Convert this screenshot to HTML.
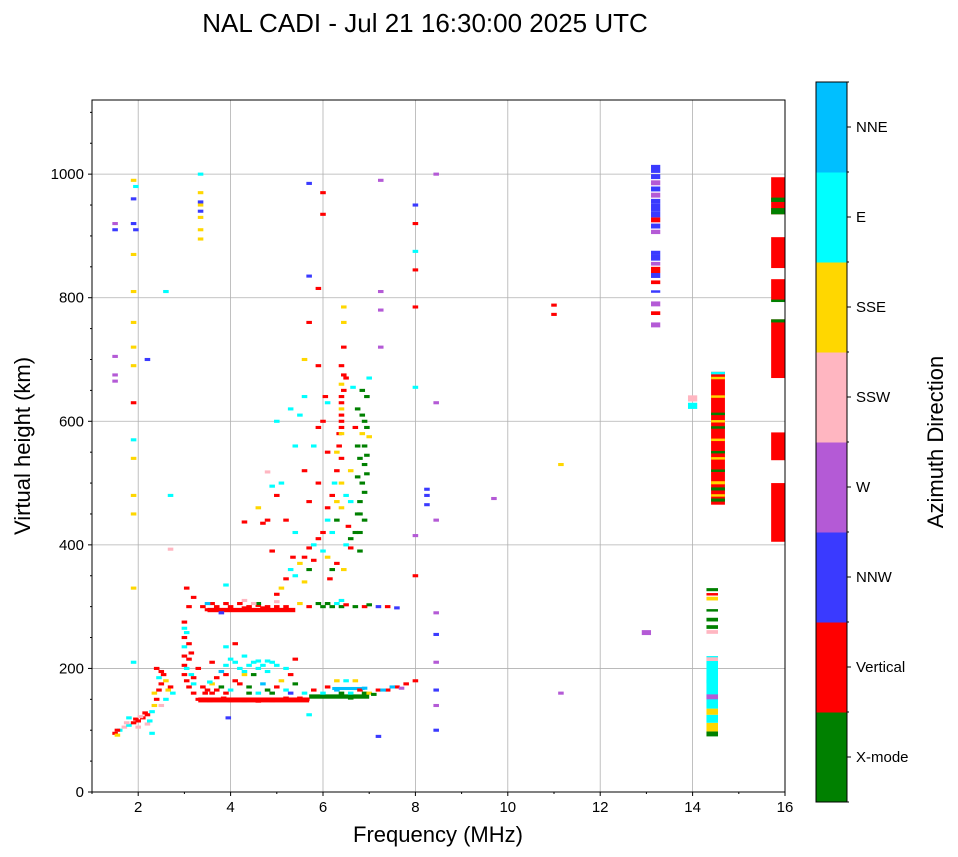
<!DOCTYPE html>
<html><head><meta charset="utf-8"><style>
body{margin:0;background:#fff;}
svg{display:block;font-family:"Liberation Sans","DejaVu Sans",sans-serif;}
</style></head><body>
<svg id="chart" width="958" height="857" viewBox="0 0 958 857" xmlns="http://www.w3.org/2000/svg">
<text x="425" y="32" font-size="26" text-anchor="middle">NAL CADI - Jul 21 16:30:00 2025 UTC</text>
<g id="grid"></g>
<g id="marks"></g>
<rect x="92" y="100" width="693" height="692" fill="none" stroke="#000" stroke-width="1"/>
<g id="axes"></g>
<text x="438" y="842" font-size="22" text-anchor="middle">Frequency (MHz)</text>
<text x="0" y="0" font-size="22" text-anchor="middle" transform="translate(30,446) rotate(-90)">Virtual height (km)</text>
<g id="cbar"></g>
<text x="0" y="0" font-size="22" text-anchor="middle" transform="translate(943,442) rotate(-90)">Azimuth Direction</text>
</svg>
<script>
const dirNames=["X-mode","Vertical","NNW","W","SSW","SSE","E","NNE"];
const dirColors=["#008000","#ff0000","#3a3aff","#b45ad6","#ffb6c1","#ffd700","#00ffff","#00bfff"];
const xTicks=[2,4,6,8,10,12,14,16];
const yTicks=[0,200,400,600,800,1000];
// echoes: [frequency MHz, virtual height km, direction index]
const echoes=[
[1.5,95,1],[1.55,92,5],[1.6,100,6],[1.7,105,4],[1.8,108,6],[1.9,112,1],[2.0,115,1],[2.1,120,1],[2.2,125,1],[2.3,130,6],[2.35,140,5],[2.4,150,1],[2.45,165,1],[2.5,175,1],[2.5,195,1],[2.6,180,5],[2.7,170,1],[2.75,160,6],[2.3,95,6],[2.0,105,4],[1.8,120,6],[2.2,110,4],[2.4,200,1],[2.6,150,6],[1.55,100,1],[1.75,112,4],[1.95,118,1],[2.05,122,4],[2.15,128,1],[2.25,115,6],[2.35,160,5],[2.45,185,6],[2.55,190,1],[2.65,165,5],[2.5,140,4],
[3.0,190,1],[3.0,205,1],[3.0,220,1],[3.0,235,6],[3.0,250,1],[3.0,265,6],[3.05,180,1],[3.05,200,6],[3.1,170,1],[3.1,240,1],[3.15,190,6],[3.1,215,1],[3.2,175,6],[3.2,160,1],[3.3,150,1],[3.3,200,1],[3.05,330,1],[3.1,300,1],[3.2,315,1],[3.0,275,1],[3.05,258,6],[3.15,225,1],[3.2,185,1],
[3.4,150,1],[3.55,148,1],[3.7,150,1],[3.85,152,1],[4.0,148,1],[4.15,150,1],[4.3,148,1],[4.45,150,1],[4.6,147,1],[4.75,150,1],[4.9,148,1],[5.05,150,1],[5.2,152,1],[5.35,150,1],[5.5,152,1],[5.65,150,1],
[3.5,165,1],[3.6,175,5],[3.8,170,0],[4.0,165,6],[4.2,175,1],[4.4,170,0],[4.6,160,6],[4.8,165,0],[5.0,170,1],[5.2,165,6],[5.4,175,0],[5.6,160,6],[5.8,155,0],[6.0,160,6],[6.2,155,0],[6.3,155,0],[6.4,160,0],[6.5,155,0],[6.6,160,6],[6.7,155,0],[6.8,165,1],[6.9,160,0],[7.0,160,5],[7.2,165,1],[7.4,165,1],[7.6,170,1],[7.8,175,1],[8.0,180,1],[5.8,165,1],[6.1,170,1],[6.3,180,5],[6.5,180,6],[6.7,180,5],[3.7,185,1],[3.9,190,1],[4.1,180,1],[4.3,190,5],[5.1,180,5],[6.1,155,0],[6.6,152,0],[7.1,158,0],[7.3,165,7],[7.5,170,7],[7.7,168,3],[6.9,168,7],[6.3,165,7],[4.4,160,0],[4.9,160,0],[5.3,160,2],[3.6,160,1],[4.7,175,7],[3.4,170,1],[3.45,160,1],[3.7,165,1],[3.9,160,1],[3.55,178,6],
[3.9,205,6],[4.0,215,6],[4.2,200,6],[4.3,220,6],[4.5,210,6],[4.6,200,6],[4.7,205,6],[4.8,195,6],[4.9,210,6],[5.0,205,6],[5.2,200,6],[3.6,210,1],[4.1,240,1],[3.9,235,6],[5.4,215,1],[5.3,190,1],[4.5,190,0],[4.4,205,6],[4.8,212,6],[4.1,210,6],[4.6,212,6],[4.3,195,6],[3.8,195,7],
[3.4,300,1],[3.5,295,1],[3.6,305,1],[3.7,300,1],[3.8,295,1],[3.9,305,1],[4.0,300,1],[4.1,295,1],[4.2,305,1],[4.3,298,1],[4.4,300,1],[4.5,295,1],[4.6,302,1],[4.7,298,1],[4.8,300,1],[4.9,295,1],[5.0,300,1],[5.1,295,1],[5.2,300,1],[5.3,295,1],[3.9,335,6],[4.3,310,4],[4.6,305,0],[5.5,305,5],[5.7,300,1],[5.9,305,0],[6.0,300,0],[6.1,305,0],[6.2,300,0],[6.3,305,6],[6.4,300,0],[6.5,303,1],[6.7,300,0],[6.9,300,1],[7.0,303,0],[7.2,300,2],[7.4,300,1],[7.6,298,2],[6.4,310,6],[3.5,305,7],[4.5,305,4],[5.0,308,4],[3.8,290,2],
[5.0,320,1],[5.1,330,5],[5.2,345,1],[5.3,360,6],[5.35,380,1],[5.4,350,6],[5.5,370,5],[5.6,380,1],[5.7,395,1],[5.8,400,6],[5.9,410,1],[5.6,340,5],[5.7,360,0],[5.8,375,1],[6.0,420,1],[6.1,440,6],[6.1,460,1],[6.2,480,1],[6.25,500,6],[6.3,520,1],[6.3,550,5],[6.35,580,1],[6.4,600,1],[6.4,620,5],[6.45,650,1],[6.5,670,1],[6.4,690,1],[6.45,720,1],[6.45,760,5],[6.45,785,5],[6.2,420,6],[6.3,440,0],[6.4,460,5],[6.5,480,6],[6.55,430,1],[6.6,410,0],[6.6,395,1],[6.7,420,0],[6.75,450,0],[6.8,470,0],[6.85,500,0],[6.9,530,0],[6.9,560,0],[6.9,600,0],[6.95,640,0],[7.0,670,6],[6.75,560,0],[6.75,620,0],[6.65,655,6],[6.7,590,1],[6.85,580,5],[7.0,575,5],[6.1,380,5],[6.2,360,0],[6.3,370,1],[6.5,400,6],[5.9,500,1],[5.8,560,6],[5.9,590,1],[6.0,600,1],[6.05,640,1],[5.7,470,1],[5.6,520,1],[5.5,610,6],[5.6,640,6],[5.4,560,6],[5.9,690,1],[6.1,630,6],[5.0,480,1],[4.3,437,1],[4.7,435,1],[5.2,440,1],[4.9,390,1],[4.8,440,1],[4.6,460,5],[5.4,420,6],[5.1,500,6],[6.1,550,1],[5.0,600,6],[5.3,620,6],[5.6,700,5],[6.4,640,1],[6.4,660,5],[6.8,540,0],[6.3,470,5],[6.4,500,5],[6.4,540,1],[6.4,580,5],[6.4,610,1],[6.8,390,0],[6.8,420,0],[6.8,450,0],[6.75,510,0],[6.85,610,0],[6.85,650,0],[6.6,470,6],[6.6,520,5],[6.45,360,5],[6.15,345,1],[6.0,390,6],[6.9,440,0],[6.9,485,0],[6.95,515,0],[6.95,545,0],[6.95,590,0],[6.4,630,1],[6.45,675,1],[6.35,560,1],[6.4,590,1],
[1.9,990,5],[1.95,980,6],[1.9,960,2],[1.9,920,2],[1.95,910,2],[1.9,870,5],[1.9,810,5],[1.9,760,5],[1.9,720,5],[1.9,690,5],[1.9,630,1],[1.9,570,6],[1.9,540,5],[1.9,480,5],[1.9,450,5],[1.9,330,5],[1.9,210,6],[1.5,920,3],[1.5,910,2],[1.5,675,3],[1.5,705,3],[1.5,665,3],[2.2,700,2],[2.6,810,6],[3.35,1000,6],[3.35,970,5],[3.35,950,5],[3.35,930,5],[3.35,910,5],[3.35,895,5],[3.35,955,2],[3.35,940,2],[5.7,985,2],[6.0,970,1],[6.0,935,1],[5.7,835,2],[5.9,815,1],[5.7,760,1],[7.25,990,3],[7.25,810,3],[7.25,780,3],[7.25,720,3],[8.0,950,2],[8.0,920,1],[8.0,875,6],[8.0,845,1],[8.0,785,1],[8.0,655,6],[8.45,1000,3],[8.45,630,3],[8.45,440,3],[8.45,290,3],[8.45,255,2],[8.45,210,3],[8.45,165,2],[8.45,140,3],[8.45,100,2],[8.25,490,2],[8.25,480,2],[8.25,465,2],[8.0,415,3],[8.0,350,1],[9.7,475,3],[11.0,788,1],[11.0,773,1],[11.15,530,5],[11.15,160,3],[7.2,90,2],[5.7,125,6],[4.8,518,4],[4.9,495,6],[2.7,480,6],[2.7,393,4],[3.95,120,2]
];
// blocks: [f start, f end, h start, h end, direction index]
const blocks=[
[3.3,5.7,145,153,1],[5.7,7.0,151,158,0],[3.5,5.4,291,298,1],[6.2,6.9,165,170,7],
[13.1,13.3,752,760,3],[13.1,13.3,772,778,1],[13.1,13.3,786,794,3],[13.1,13.3,808,812,2],[13.1,13.3,822,828,1],[13.1,13.3,832,840,2],[13.1,13.3,840,850,1],[13.1,13.3,852,858,3],[13.1,13.3,860,870,2],[13.1,13.3,870,876,2],[13.1,13.3,903,910,3],[13.1,13.3,912,920,2],[13.1,13.3,922,930,1],[13.1,13.3,930,940,2],[13.1,13.3,940,952,2],[13.1,13.3,952,960,2],[13.1,13.3,962,970,3],[13.1,13.3,972,980,2],[13.1,13.3,982,990,3],[13.1,13.3,992,1000,2],[13.1,13.3,1002,1015,2],
[12.9,13.1,254,262,3],[13.9,14.1,632,642,4],[13.9,14.1,620,630,6],
[14.4,14.7,465,680,1],[14.4,14.7,478,482,5],[14.4,14.7,498,503,5],[14.4,14.7,538,542,5],[14.4,14.7,568,572,5],[14.4,14.7,598,602,5],[14.4,14.7,638,642,5],[14.4,14.7,668,672,5],[14.4,14.7,470,475,0],[14.4,14.7,488,493,0],[14.4,14.7,518,522,0],[14.4,14.7,548,552,0],[14.4,14.7,588,592,0],[14.4,14.7,610,614,0],[14.4,14.7,676,680,6],
[14.3,14.55,90,98,0],[14.3,14.55,98,112,5],[14.3,14.55,112,125,6],[14.3,14.55,125,135,5],[14.3,14.55,135,220,6],[14.3,14.55,150,158,3],[14.3,14.55,176,182,6],[14.3,14.55,212,218,4],[14.3,14.55,256,262,4],[14.3,14.55,264,270,0],[14.3,14.55,276,282,0],[14.3,14.55,292,296,0],[14.3,14.55,310,316,5],[14.3,14.55,318,322,1],[14.3,14.55,325,330,0],
[15.7,16,405,500,1],[15.7,16,537,582,1],[15.7,16,670,765,1],[15.7,16,760,765,0],[15.7,16,795,830,1],[15.7,16,793,797,0],[15.7,16,848,898,1],[15.7,16,935,995,1],[15.7,16,935,945,0],[15.7,16,955,962,0]
];
const NS="http://www.w3.org/2000/svg";
const X0=92,X1=785,Y0=792,Y1=100,FMIN=1,FMAX=16,HMIN=0,HMAX=1120;
function xs(f){return X0+(f-FMIN)/(FMAX-FMIN)*(X1-X0);}
function ys(h){return Y0-(h-HMIN)/(HMAX-HMIN)*(Y0-Y1);}
function mk(tag,attrs,parent){const e=document.createElementNS(NS,tag);for(const k in attrs)e.setAttribute(k,attrs[k]);parent.appendChild(e);return e;}
const grid=document.getElementById('grid'),axes=document.getElementById('axes'),marks=document.getElementById('marks'),cbar=document.getElementById('cbar');
xTicks.forEach(t=>{const x=xs(t);
 if(t<FMAX){const g=mk('line',{x1:x,x2:x,y1:Y1,y2:Y0,stroke:'#b0b0b0','stroke-width':0.8},grid);
 
 }
 const tk=mk('line',{x1:x,x2:x,y1:Y0,y2:Y0+4,stroke:'#000'},axes);
 
 
 const lb=mk('text',{x:x,y:Y0+20,'font-size':15,'text-anchor':'middle'},axes);lb.textContent=t;
 
 
});
for(let f=1;f<=16;f+=1){if(f%2===0)continue;const x=xs(f);const m=mk('line',{x1:x,x2:x,y1:Y0,y2:Y0+2,stroke:'#000'},axes);
 
 }
yTicks.forEach(t=>{const y=ys(t);
 if(t>0){const g=mk('line',{x1:X0,x2:X1,y1:y,y2:y,stroke:'#b0b0b0','stroke-width':0.8},grid);
 
 }
 const tk=mk('line',{x1:X0-4,x2:X0,y1:y,y2:y,stroke:'#000'},axes);
 
 
 const lb=mk('text',{x:X0-8,y:y+5,'font-size':15,'text-anchor':'end'},axes);lb.textContent=t;
 
 
});
for(let h=50;h<=1100;h+=50){if(h%200===0)continue;const y=ys(h);const m=mk('line',{x1:X0-2,x2:X0,y1:y,y2:y,stroke:'#000'},axes);
 
 }
blocks.forEach(b=>{const r=mk('rect',{x:xs(b[0]),y:ys(b[3]),width:xs(b[1])-xs(b[0]),height:ys(b[2])-ys(b[3]),fill:dirColors[b[4]]},marks);
 
 });
const DW=0.12,DH=5;
echoes.forEach(p=>{const r=mk('rect',{x:xs(p[0]-DW/2),y:ys(p[1]+DH/2),width:xs(DW)-xs(0),height:ys(0)-ys(DH),fill:dirColors[p[2]]},marks);
 
 });
const CX=816,CW=31,CT=82,CB=802,seg=(CB-CT)/dirNames.length;
dirNames.forEach((n,i)=>{const y=CB-(i+1)*seg;
 const r=mk('rect',{x:CX,y:y,width:CW,height:seg+0.5,fill:dirColors[i]},cbar);
 
 
 const tk=mk('line',{x1:CX+CW,x2:CX+CW+4,y1:y+seg/2,y2:y+seg/2,stroke:'#000'},cbar);
 
 
 const lb=mk('text',{x:CX+CW+9,y:y+seg/2+5,'font-size':15},cbar);lb.textContent=n;
 
 
});
for(let i=0;i<=dirNames.length;i++){const y=CB-i*seg;const m=mk('line',{x1:CX+CW,x2:CX+CW+2,y1:y,y2:y,stroke:'#000'},cbar);
 
 }
const fr=mk('rect',{x:CX,y:CT,width:CW,height:CB-CT,fill:'none',stroke:'#000','stroke-width':1},cbar);


</script>
</body></html>
